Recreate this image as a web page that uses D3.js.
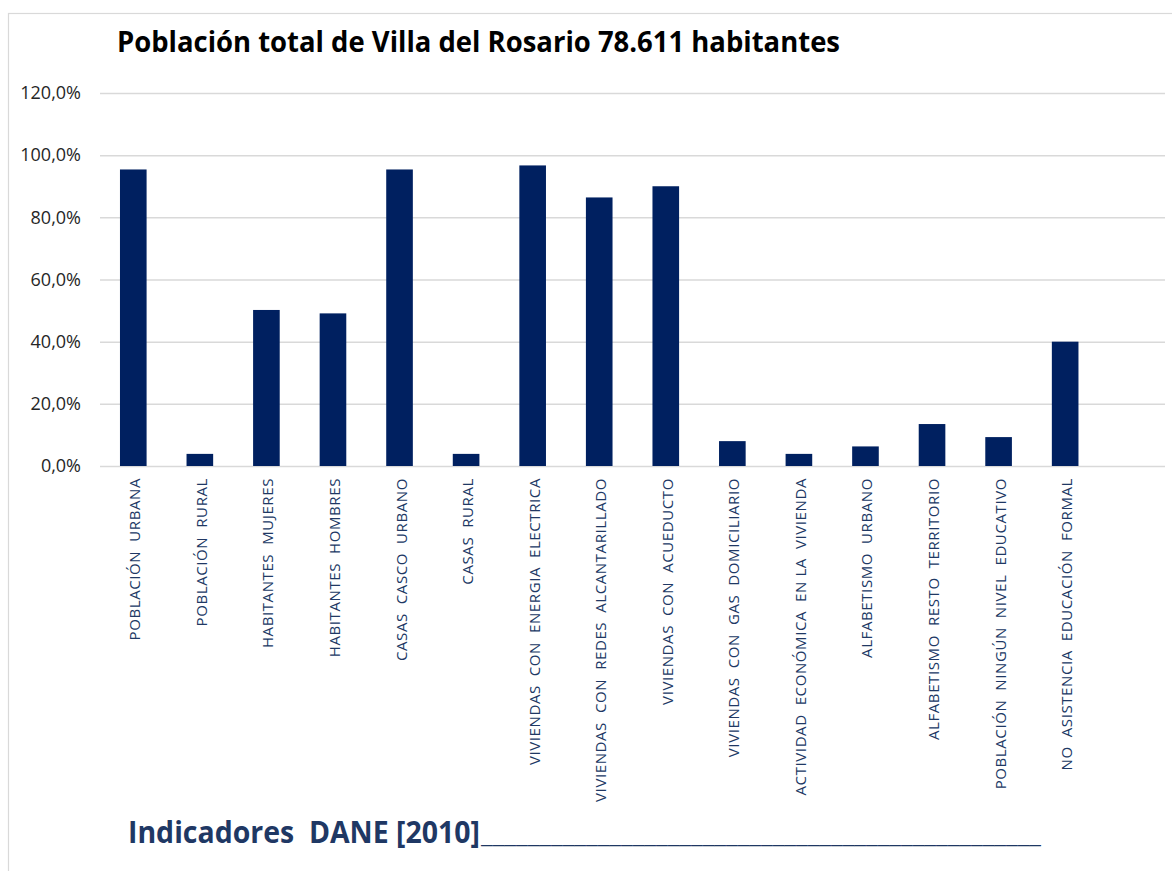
<!DOCTYPE html>
<html>
<head>
<meta charset="utf-8">
<script src="https://cdn.jsdelivr.net/npm/d3@7"></script>
<style>
  body { margin: 0; background: #fff; }
  text { white-space: pre; }
</style>
</head>
<body>
<div id="container"></div>
<script>
const categories = [
    "POBLACIÓN  URBANA",
    "POBLACIÓN  RURAL",
    "HABITANTES  MUJERES",
    "HABITANTES  HOMBRES",
    "CASAS  CASCO  URBANO",
    "CASAS  RURAL",
    "VIVIENDAS  CON  ENERGIA  ELECTRICA",
    "VIVIENDAS  CON  REDES  ALCANTARILLADO",
    "VIVIENDAS  CON  ACUEDUCTO",
    "VIVIENDAS  CON  GAS  DOMICILIARIO",
    "ACTIVIDAD  ECONÓMICA  EN LA  VIVIENDA",
    "ALFABETISMO  URBANO",
    "ALFABETISMO  RESTO  TERRITORIO",
    "POBLACIÓN  NINGÚN  NIVEL  EDUCATIVO",
    "NO  ASISTENCIA  EDUCACIÓN  FORMAL"
]
const values = [95.4, 3.9, 50.2, 49.1, 95.4, 3.9, 96.7, 86.4, 90.0, 8.0, 3.9, 6.3, 13.5, 9.3, 40.0]
const yTicks = [0, 20, 40, 60, 80, 100, 120]

const w = 1172
const h = 871
const navy = "#002060"

const svg = d3.select("#container")
    .append("svg")
    .attr("width", w)
    .attr("height", h)
    .style("font-family", "'Open Sans', sans-serif")

// chart frame
svg.append("rect")
    .attr("x", 8.5).attr("y", 13.5)
    .attr("width", w + 10).attr("height", h + 10)
    .attr("fill", "none")
    .attr("stroke", "#d9d9d9")
    .attr("stroke-width", 1.2)

// the sheet had one empty row after the last indicator
const xScale = d3.scaleBand()
    .domain([...categories, " "])
    .range([100, 1165])
    .paddingInner(0.6)
    .paddingOuter(0.3)

const yScale = d3.scaleLinear()
    .domain([0, 120])
    .range([466, 93])

// gridlines + labels
const yAxis = d3.axisLeft(yScale)
    .tickValues(yTicks)
    .tickSize(-(1165 - 100))
    .tickPadding(19)
    .tickFormat(d => d3.format(".1f")(d).replace(".", ",") + "%")

const gy = svg.append("g")
    .attr("transform", "translate(100,0)")
    .call(yAxis)
gy.select(".domain").remove()
gy.selectAll("line").attr("stroke", "#d9d9d9").attr("stroke-width", 1.5)
gy.selectAll("text")
    .attr("fill", "#262626")
    .style("font-size", "18px")
    .style("font-family", "'Open Sans', sans-serif")

svg.selectAll("rect.bar")
    .data(values)
    .enter()
    .append("rect")
    .attr("class", "bar")
    .attr("x", (d, i) => xScale(categories[i]))
    .attr("y", d => yScale(d))
    .attr("width", xScale.bandwidth())
    .attr("height", d => yScale(0) - yScale(d))
    .attr("fill", navy)

// category labels, rotated
svg.selectAll("text.cat")
    .data(categories)
    .enter()
    .append("text")
    .attr("class", "cat")
    .attr("transform", d => `translate(${xScale(d) + xScale.bandwidth() / 2 + 7}, 478) rotate(-90)`)
    .attr("text-anchor", "end")
    .attr("fill", "#203864")
    .style("font-size", "15px")
    .style("letter-spacing", "0.6px")
    .text(d => d)

// title
svg.append("text")
    .attr("x", 117).attr("y", 52)
    .attr("textLength", 723)
    .attr("lengthAdjust", "spacingAndGlyphs")
    .style("font-size", "29px")
    .style("font-weight", "bold")
    .attr("fill", "#000")
    .text("Población total de Villa del Rosario 78.611 habitantes")

// footer
svg.append("text")
    .attr("x", 128).attr("y", 843)
    .attr("textLength", 352)
    .attr("lengthAdjust", "spacingAndGlyphs")
    .style("font-size", "30px")
    .style("font-weight", "bold")
    .attr("fill", "#1f3864")
    .text("Indicadores  DANE [2010]")

svg.append("text")
    .attr("x", 481).attr("y", 843)
    .attr("textLength", 560)
    .attr("lengthAdjust", "spacingAndGlyphs")
    .style("font-size", "24px")
    .attr("fill", "#1f3864")
    .text("_".repeat(48))
</script>
</body>
</html>
